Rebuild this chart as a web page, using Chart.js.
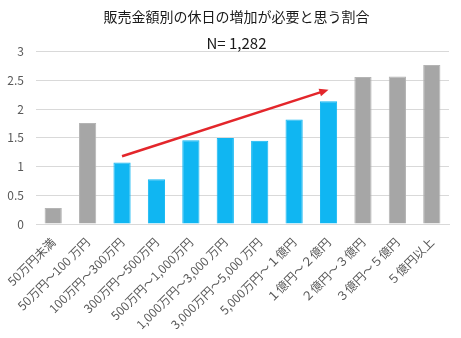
<!DOCTYPE html>
<html>
<head>
<meta charset="utf-8">
<script src="https://cdn.jsdelivr.net/npm/chart.js@4"></script>
<style>
  html, body { margin: 0; padding: 0; background: #fff; }
  #wrap { width: 461px; height: 338px; }
</style>
</head>
<body>
<div id="wrap"><canvas id="chart" width="461" height="338"></canvas></div>
<script>
// data
const categories = [
    '50万円未満', '50万円～100 万円', '100万円～300万円', '300万円～500万円',
    '500万円～1,000万円', '1,000万円～3,000 万円', '3,000万円～5,000 万円',
    '5,000万円～１億円', '１億円～２億円', '２億円～３億円', '３億円～５億円', '５億円以上'
];
const values = [0.28, 1.76, 1.07, 0.78, 1.46, 1.50, 1.45, 1.82, 2.14, 2.56, 2.57, 2.77];
const highlighted = [false, false, true, true, true, true, true, true, true, false, false, false];
const yTicks = [0, 0.5, 1, 1.5, 2, 2.5, 3];
// trend arrow: [category index, value]
const arrowFrom = [2, 1.18];
const arrowTo = [8, 2.34];

const FONT = "'Noto Sans CJK JP', 'Noto Sans', sans-serif";

const arrowPlugin = {
    id: 'trendArrow',
    afterDatasetsDraw(chart) {
        const ctx = chart.ctx;
        const xs = chart.scales.x, ys = chart.scales.y;
        const x1 = xs.getPixelForValue(arrowFrom[0]), y1 = ys.getPixelForValue(arrowFrom[1]);
        const x2 = xs.getPixelForValue(arrowTo[0]), y2 = ys.getPixelForValue(arrowTo[1]);
        const ang = Math.atan2(y2 - y1, x2 - x1);
        const head = 10;
        ctx.save();
        ctx.strokeStyle = '#E3262B';
        ctx.fillStyle = '#E3262B';
        ctx.lineWidth = 2.5;
        ctx.beginPath();
        ctx.moveTo(x1, y1);
        ctx.lineTo(x2 - Math.cos(ang) * head * 0.8, y2 - Math.sin(ang) * head * 0.8);
        ctx.stroke();
        ctx.beginPath();
        ctx.moveTo(x2, y2);
        ctx.lineTo(x2 - head * Math.cos(ang - 0.4), y2 - head * Math.sin(ang - 0.4));
        ctx.lineTo(x2 - head * Math.cos(ang + 0.4), y2 - head * Math.sin(ang + 0.4));
        ctx.closePath();
        ctx.fill();
        ctx.restore();
    }
};

new Chart(document.getElementById('chart'), {
    type: 'bar',
    data: {
        labels: categories,
        datasets: [{
            data: values,
            backgroundColor: highlighted.map(h => h ? '#10B6F2' : '#A6A6A6'),
            borderColor: highlighted.map(h => h ? '#10B6F2' : '#B4B4B4'),
            borderWidth: 1,
            categoryPercentage: 1,
            barPercentage: 0.5
        }]
    },
    options: {
        responsive: false,
        animation: false,
        // negative right padding shifts the centred title a little to the right
        layout: { padding: { left: 6, right: -6, top: 0, bottom: 0 } },
        plugins: {
            legend: { display: false },
            tooltip: { enabled: false },
            title: {
                display: true,
                text: '販売金額別の休日の増加が必要と思う割合',
                color: '#1a1a1a',
                font: { family: FONT, size: 14, weight: 'normal' },
                padding: { top: 8, bottom: 5 }
            },
            subtitle: {
                display: true,
                text: 'N= 1,282',
                color: '#1a1a1a',
                font: { family: FONT, size: 15, weight: 'normal' },
                padding: { top: 4, bottom: 0 }
            }
        },
        scales: {
            x: {
                grid: { display: false },
                border: { color: '#D9D9D9' },
                afterFit(axis) { axis.height = 114; },
                ticks: {
                    color: '#595959',
                    font: { family: FONT, size: 12 },
                    minRotation: 45,
                    maxRotation: 45,
                    autoSkip: false
                }
            },
            y: {
                min: 0,
                max: 3,
                afterBuildTicks(axis) { axis.ticks = yTicks.map(v => ({ value: v })); },
                afterFit(axis) { axis.width = 30; },
                grid: { color: '#D9D9D9', drawTicks: false },
                border: { display: false },
                ticks: {
                    color: '#595959',
                    font: { family: FONT, size: 12 },
                    padding: 12,
                    callback: v => String(v)
                }
            },
            // empty axis that only keeps the right margin
            y2: {
                position: 'right',
                display: true,
                afterFit(axis) { axis.width = 18; },
                grid: { display: false, drawTicks: false },
                border: { display: false },
                ticks: { display: false }
            }
        }
    },
    plugins: [arrowPlugin]
});
</script>
</body>
</html>
